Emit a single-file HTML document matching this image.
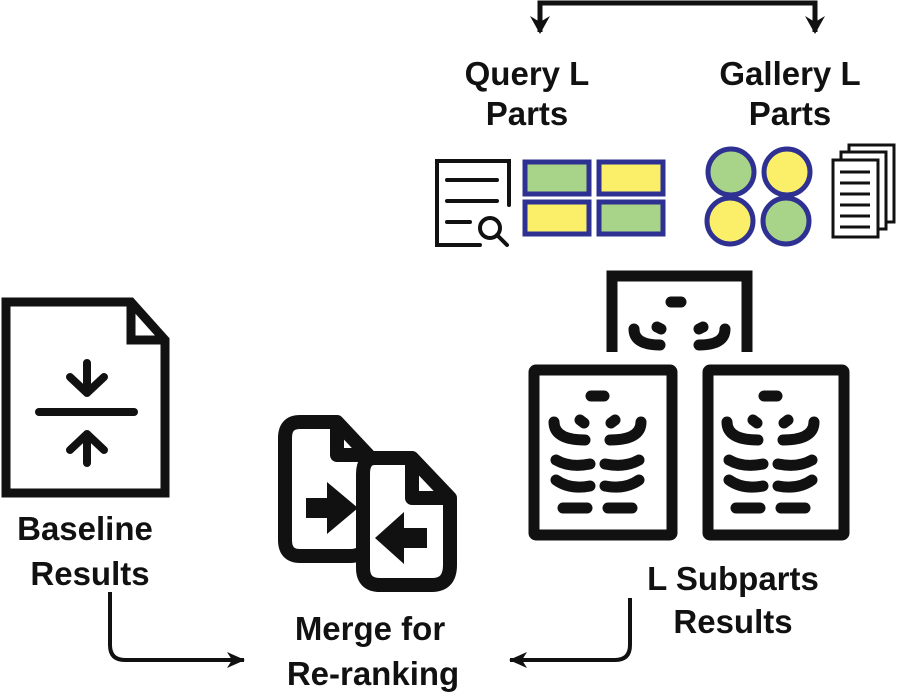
<!DOCTYPE html>
<html><head><style>
html,body{margin:0;padding:0;background:#fff;}
svg{display:block;}
text{font-family:"Liberation Sans",Arial,sans-serif;font-weight:bold;font-size:33px;fill:#111;text-anchor:middle;}
</style></head><body>
<svg width="905" height="697" viewBox="0 0 905 697" xmlns="http://www.w3.org/2000/svg">
<defs>
<marker id="ah" markerWidth="20" markerHeight="20" refX="17" refY="10" orient="auto" markerUnits="userSpaceOnUse" viewBox="0 0 20 20">
<path d="M0,2 L18,10 L0,18 L5,10 Z" fill="#111"/></marker>
</defs>
<g stroke="#111" stroke-width="5" fill="none">
<path d="M540,32 V3 H815 V32"/>
</g>
<path d="M530,16 L540,34 L550,16 L540,22Z" fill="#111"/>
<path d="M805,16 L815,34 L825,16 L815,22Z" fill="#111"/>
<text x="527" y="85">Query L</text>
<text x="527" y="125">Parts</text>
<text x="790" y="85">Gallery L</text>
<text x="790" y="125">Parts</text>
<g stroke="#111" stroke-width="4" fill="none" stroke-linecap="round">
<path d="M480,245 H437 V161 H509 V205"/>
<path d="M447,180 H497 M447,201 H497 M447,222 H470"/>
<circle cx="490" cy="228" r="10"/>
<path d="M497,235 L507,245"/>
</g>
<g stroke="#2e3192" stroke-width="5">
<rect x="525" y="162" width="64" height="32" fill="#a8d48a"/>
<rect x="599" y="162" width="64" height="32" fill="#fbef6a"/>
<rect x="525" y="202" width="64" height="32" fill="#fbef6a"/>
<rect x="599" y="202" width="64" height="32" fill="#a8d48a"/>
<circle cx="731" cy="172" r="23" fill="#a8d48a"/>
<circle cx="787" cy="172" r="23" fill="#fbef6a"/>
<circle cx="730" cy="221" r="23" fill="#fbef6a"/>
<circle cx="786" cy="221" r="23" fill="#a8d48a"/>
</g>
<g stroke="#111" stroke-width="3" fill="#fff">
<rect x="849" y="145" width="45" height="77"/>
<rect x="841" y="152" width="45" height="77"/>
<rect x="833" y="160" width="45" height="77"/>
<path d="M840,172 H870 M840,183 H870 M840,194 H870 M840,205 H870 M840,216 H870 M840,227 H870" stroke-width="3"/>
</g>
<g stroke="#111" stroke-width="11" fill="none" stroke-linecap="round">
<path d="M612,352 V276 H747 V352" stroke-linecap="butt"/>
<rect x="534" y="370" width="138" height="165" rx="2"/>
<rect x="708" y="370" width="136" height="165" rx="2"/>
<path d="M671,302 H681 M634,329 Q634,345 660,345 M725,329 Q725,345 699,345 M657,327 L661,329 M699,329 L703,327"/>
<g id="rib">
<path d="M591,396 H604 M554,422 Q554,440 585,440 M641,422 Q641,440 610,440 M580,420 L584,423 M611,423 L615,420 M556,460 Q570,468 590,464 M639,460 Q625,468 605,464 M556,480 Q570,490 590,486 M639,480 Q625,490 605,486 M563,508 H587 M608,508 H632"/>
</g>
<use href="#rib" transform="translate(173,0)"/>
</g>
<g stroke="#111" stroke-width="9" fill="none" stroke-linejoin="miter">
<path d="M6,302 H131 L165,340 V493 H6 Z"/>
<path d="M131,302 V340 H165"/>
</g>
<g stroke="#111" stroke-width="8" fill="none" stroke-linecap="round" stroke-linejoin="round">
<path d="M39,412 H134"/>
<path d="M87,363 V393 M70,377 L87,393 L104,377"/>
<path d="M87,463 V434 M70,450 L87,434 L104,450"/>
</g>
<text x="85" y="540">Baseline</text>
<text x="90" y="585">Results</text>
<g stroke="#111" stroke-width="14" fill="#fff" stroke-linejoin="round">
<path d="M300,422 H337 L368,455 V535 Q368,556 350,556 H300 Q285,556 285,540 V438 Q285,422 300,422 Z"/>
<path d="M337,422 V455 H368" fill="none"/>
<path d="M375,458 H412 L450,498 V565 Q450,585 432,585 H380 Q363,585 363,568 V474 Q363,458 375,458 Z"/>
<path d="M412,458 V498 H450" fill="none"/>
</g>
<path d="M306,498 H327 V482 L358,508 L327,534 V518 H306 Z" fill="#111"/>
<path d="M427,528 H404 V512 L375,538 L404,564 V548 H427 Z" fill="#111"/>
<text x="370" y="640">Merge for</text>
<text x="373" y="685">Re-ranking</text>
<text x="733" y="590">L Subparts</text>
<text x="733" y="633">Results</text>
<g stroke="#111" stroke-width="4" fill="none">
<path d="M110,592 V645 Q110,660 125,660 H244" marker-end="url(#ah)"/>
<path d="M630,598 V645 Q630,660 615,660 H510" marker-end="url(#ah)"/>
</g>
</svg>
</body></html>
